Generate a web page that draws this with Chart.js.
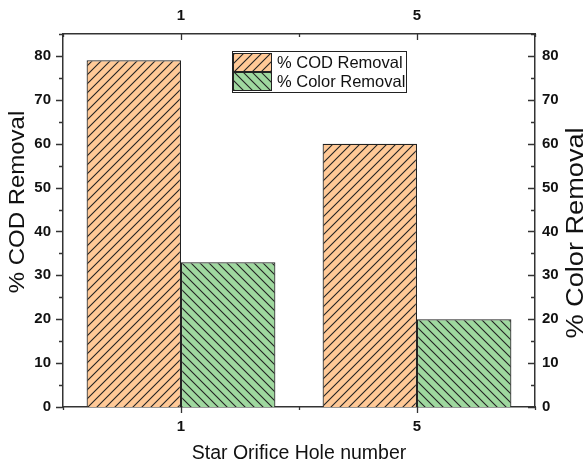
<!DOCTYPE html>
<html>
<head>
<meta charset="utf-8">
<script src="https://cdn.jsdelivr.net/npm/chart.js@4/dist/chart.umd.min.js"></script>
<style>
    html, body { margin: 0; padding: 0; background: #fff; }
    #wrap { width: 585px; height: 464px; }
</style>
</head>
<body>
<div id="wrap"><canvas id="myChart" width="585" height="464"></canvas></div>
<script>
const holeNumbers = ['1', '5'];
const codRemoval = [79, 60];
const colorRemoval = [33, 20];
const seriesLabels = ['% COD Removal', '% Color Removal'];
const xTitle = 'Star Orifice Hole number';
const yTitle = '% COD Removal';
const y2Title = '% Color Removal';

const FONT = "'Liberation Sans', Arial, sans-serif";
const AXIS_COLOR = '#333';

// hatch tile: dir 1 = "/" , dir -1 = "\"
function makeHatch(fill, dir) {
    const size = 9;
    const c = document.createElement('canvas');
    c.width = size;
    c.height = size;
    const g = c.getContext('2d');
    g.fillStyle = fill;
    g.fillRect(0, 0, size, size);
    g.strokeStyle = '#222';
    g.lineWidth = 1.1;
    g.beginPath();
    if (dir > 0) {
        g.moveTo(-1, size + 1); g.lineTo(size + 1, -1);
        g.moveTo(-1, 1); g.lineTo(1, -1);
        g.moveTo(size - 1, size + 1); g.lineTo(size + 1, size - 1);
    } else {
        g.moveTo(-1, -1); g.lineTo(size + 1, size + 1);
        g.moveTo(size - 1, -1); g.lineTo(size + 1, 1);
        g.moveTo(-1, size - 1); g.lineTo(1, size + 1);
    }
    g.stroke();
    return g.createPattern(c, 'repeat');
}

const ctx = document.getElementById('myChart').getContext('2d');
const codPattern = makeHatch('#ffc997', 1);
const colorPattern = makeHatch('#9fd89f', -1);

// ticks drawn by hand so we get minor ones and the inward/outward mix
const tickPlugin = {
    id: 'ticksByHand',
    afterDraw(chart) {
        const c = chart.ctx;
        const area = chart.chartArea;
        c.save();
        c.strokeStyle = AXIS_COLOR;
        c.lineWidth = 1.3;
        c.beginPath();
        const y = chart.scales.y;
        for (let v = 0; v <= 85; v += 5) {
            const py = Math.round(y.getPixelForValue(v)) + 0.5;
            const len = v % 10 === 0 ? 7 : 4;
            c.moveTo(area.left - len, py); c.lineTo(area.left, py);
            c.moveTo(area.right - len, py); c.lineTo(area.right, py);
        }
        const x = chart.scales.x;
        holeNumbers.forEach((h, i) => {
            const px = Math.round(x.getPixelForTick(i)) + 0.5;
            c.moveTo(px, area.bottom); c.lineTo(px, area.bottom + 6);
            c.moveTo(px, area.top); c.lineTo(px, area.top + 6);
        });
        const bounds = [area.left, (area.left + area.right) / 2, area.right];
        bounds.forEach(b => {
            const px = Math.round(b) + 0.5;
            c.moveTo(px, area.bottom); c.lineTo(px, area.bottom + 3);
            c.moveTo(px, area.top); c.lineTo(px, area.top + 3);
        });
        c.stroke();
        c.restore();
    }
};

function sideTitle(c, text, size, stretch, cx, cy) {
    c.save();
    c.fillStyle = '#111';
    c.textAlign = 'center';
    c.textBaseline = 'middle';
    c.font = size + 'px ' + FONT;
    c.translate(cx, cy);
    c.rotate(-Math.PI / 2);
    c.scale(stretch, 1);
    c.fillText(text, 0, 0);
    c.restore();
}

// axis titles by hand: both side titles read bottom-to-top
const titlePlugin = {
    id: 'titles',
    afterDraw(chart) {
        const c = chart.ctx;
        c.save();
        c.fillStyle = '#111';
        c.textAlign = 'center';
        c.textBaseline = 'middle';
        c.font = '19.5px ' + FONT;
        c.fillText(xTitle, (chart.chartArea.left + chart.chartArea.right) / 2, 454);
        c.restore();
        sideTitle(c, yTitle, 22, 1.09, 18, 202);
        sideTitle(c, y2Title, 23, 1.18, 577, 233);
    }
};

const legendPlugin = {
    id: 'boxLegend',
    afterDraw(chart) {
        const c = chart.ctx;
        const x0 = 232, y0 = 51, w = 174, h = 41;
        c.save();
        c.fillStyle = '#fff';
        c.fillRect(x0, y0, w, h);
        c.strokeStyle = '#222';
        c.lineWidth = 1;
        c.strokeRect(x0 + 0.5, y0 + 0.5, w, h);
        chart.data.datasets.forEach((ds, i) => {
            const sy = y0 + 2 + i * 19;
            c.fillStyle = ds.backgroundColor;
            c.fillRect(x0 + 1, sy, 38, 18);
            c.strokeStyle = '#222';
            c.strokeRect(x0 + 1.5, sy + 0.5, 38, 18);
            c.fillStyle = '#111';
            c.font = '16.5px ' + FONT;
            c.textBaseline = 'middle';
            c.fillText(ds.label, x0 + 45, sy + 10);
        });
        c.restore();
    }
};

function fixSize(prop, val) {
    return scale => { scale[prop] = val; };
}

const tickFont = { family: FONT, size: 15, weight: 'bold' };

new Chart(ctx, {
    type: 'bar',
    data: {
        labels: holeNumbers,
        datasets: [
            {
                label: seriesLabels[0],
                data: codRemoval,
                backgroundColor: codPattern,
                borderColor: '#222',
                borderWidth: 1.2,
                categoryPercentage: 0.8,
                barPercentage: 1.0
            },
            {
                label: seriesLabels[1],
                data: colorRemoval,
                backgroundColor: colorPattern,
                borderColor: '#222',
                borderWidth: 1.2,
                categoryPercentage: 0.8,
                barPercentage: 1.0
            }
        ]
    },
    options: {
        responsive: false,
        animation: false,
        layout: { padding: 0 },
        plugins: {
            legend: { display: false },
            tooltip: { enabled: false }
        },
        scales: {
            x: {
                position: 'bottom',
                grid: { display: false, drawTicks: false },
                border: { display: true, color: AXIS_COLOR, width: 1.5 },
                ticks: { color: '#111', font: tickFont, padding: 11 },
                afterFit: fixSize('height', 57)
            },
            x2: {
                position: 'top',
                labels: holeNumbers,
                grid: { display: false, drawTicks: false },
                border: { display: true, color: AXIS_COLOR, width: 1.5 },
                ticks: { color: '#111', font: tickFont, padding: 9 },
                afterFit: fixSize('height', 34)
            },
            y: {
                position: 'left',
                min: 0,
                max: 85,
                grid: { display: false, drawTicks: false },
                border: { display: true, color: AXIS_COLOR, width: 1.5 },
                ticks: { stepSize: 10, color: '#111', font: tickFont, padding: 12 },
                afterBuildTicks: s => { s.ticks = s.ticks.filter(t => t.value % 10 === 0); },
                afterFit: fixSize('width', 63)
            },
            y2: {
                position: 'right',
                min: 0,
                max: 85,
                grid: { display: false, drawTicks: false },
                border: { display: true, color: AXIS_COLOR, width: 1.5 },
                ticks: { stepSize: 10, color: '#111', font: tickFont, padding: 7 },
                afterBuildTicks: s => { s.ticks = s.ticks.filter(t => t.value % 10 === 0); },
                afterFit: fixSize('width', 50)
            }
        }
    },
    plugins: [tickPlugin, legendPlugin, titlePlugin]
});
</script>
</body>
</html>
